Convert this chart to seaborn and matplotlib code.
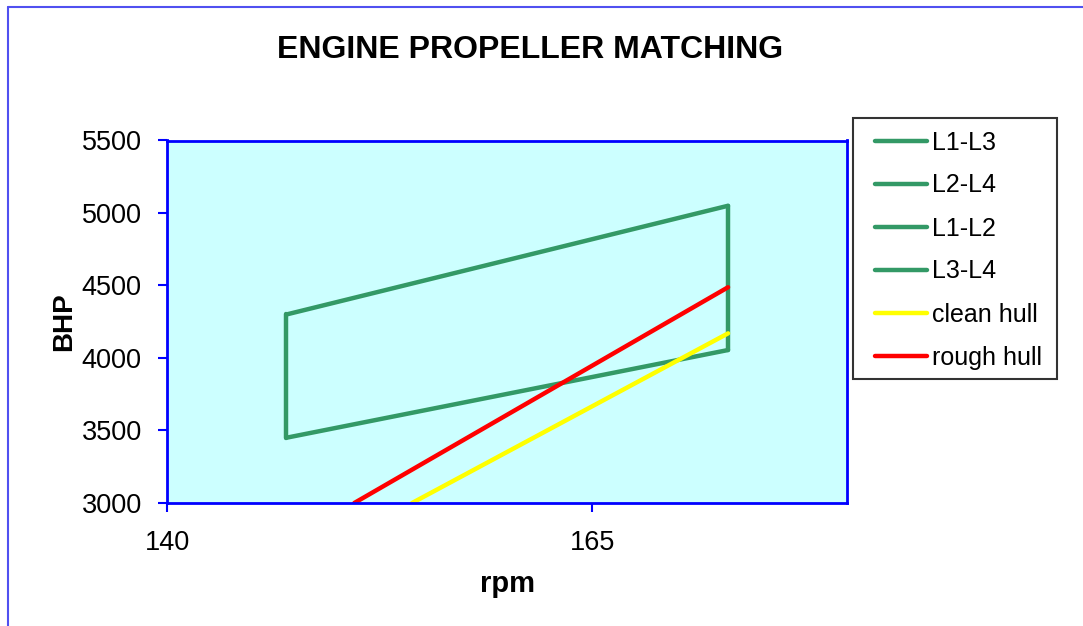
import matplotlib
matplotlib.use("Agg")
import matplotlib.pyplot as plt
from matplotlib.lines import Line2D
from matplotlib.patches import Rectangle
import seaborn as sns
import pandas as pd

# ---- data ----
l1_l3_rpm = [147, 173]
l1_l3_bhp = [4300, 5050]
l2_l4_rpm = [147, 173]
l2_l4_bhp = [3450, 4055]
l1_l2_rpm = [173, 173]
l1_l2_bhp = [5050, 4055]
l3_l4_rpm = [147, 147]
l3_l4_bhp = [4300, 3450]
clean_rpm = [154.4, 173]
clean_bhp = [3000, 4170]
rough_rpm = [151, 173]
rough_bhp = [3000, 4488]

series_names = ["L1-L3", "L2-L4", "L1-L2", "L3-L4", "clean hull", "rough hull"]
series_rpm = [l1_l3_rpm, l2_l4_rpm, l1_l2_rpm, l3_l4_rpm, clean_rpm, rough_rpm]
series_bhp = [l1_l3_bhp, l2_l4_bhp, l1_l2_bhp, l3_l4_bhp, clean_bhp, rough_bhp]
series_colors = ["#339966", "#339966", "#339966", "#339966", "#FFFF00", "#FF0000"]

x_ticks = [140, 165]
y_ticks = [3000, 3500, 4000, 4500, 5000, 5500]

sns.set_style("white")
plt.rcParams["font.family"] = ["Liberation Sans", "DejaVu Sans"]
plt.rcParams["text.color"] = "black"
plt.rcParams["axes.labelcolor"] = "black"

W, H = 1083, 626
fig = plt.figure(figsize=(W / 100, H / 100), dpi=100)
ax = fig.add_axes([167.4 / W, 1 - 503 / H, (847 - 167.4) / W, (503 - 140.5) / H])
ax.set_facecolor("#CCFFFF")

for name, xs, ys, c in zip(series_names, series_rpm, series_bhp, series_colors):
    df = pd.DataFrame({"rpm": xs, "BHP": ys})
    sns.lineplot(data=df, x="rpm", y="BHP", ax=ax, color=c, linewidth=3.2,
                 estimator=None, sort=False, label=name, legend=False)

ax.set_xlim(140, 180)
ax.set_ylim(3000, 5500)
ax.set_xticks(x_ticks)
ax.set_yticks(y_ticks)
ax.tick_params(axis="both", direction="out", length=6.5, width=1.5, color="#0000FF",
               labelsize=19.5, labelcolor="black", bottom=True, left=True,
               top=False, right=False)
ax.tick_params(axis="y", pad=12)
ax.tick_params(axis="x", pad=13)
for s in ax.spines.values():
    s.set_color("#0000FF")
    s.set_linewidth(2)
    s.set_visible(True)

ax.set_xlabel("rpm", fontsize=21, fontweight="bold", labelpad=10, color="black")
ax.set_ylabel("BHP", fontsize=20, fontweight="bold", labelpad=3, color="black")

fig.text(530 / W, 1 - 50 / H, "ENGINE PROPELLER MATCHING", fontsize=23,
         fontweight="bold", ha="center", va="center", color="black")

# legend frame (drawn separately to match the reference box)
fig.add_artist(Rectangle((853 / W, 1 - 379 / H), (1057 - 853) / W, (379 - 118) / H,
                         transform=fig.transFigure, facecolor="white",
                         edgecolor="#333333", linewidth=1.5, zorder=1))
handles = [Line2D([0], [0], color=c, linewidth=3.2) for c in series_colors]
leg = fig.legend(handles, series_names, loc="upper left",
                 bbox_to_anchor=(862.5 / W, 1 - 118 / H), fontsize=18,
                 frameon=False, handlelength=2.1, labelcolor="black",
                 handletextpad=0.2, labelspacing=0.76, borderpad=0.5,
                 borderaxespad=0)
leg.set_zorder(2)

# figure border (left and top visible)
fig.add_artist(Line2D([8 / W, 8 / W], [0, 1 - 7 / H], transform=fig.transFigure,
                      color="#5050F0", linewidth=1.5))
fig.add_artist(Line2D([8 / W, 1], [1 - 7 / H, 1 - 7 / H], transform=fig.transFigure,
                      color="#5050F0", linewidth=1.5))

fig.savefig("out.png", dpi=100)
